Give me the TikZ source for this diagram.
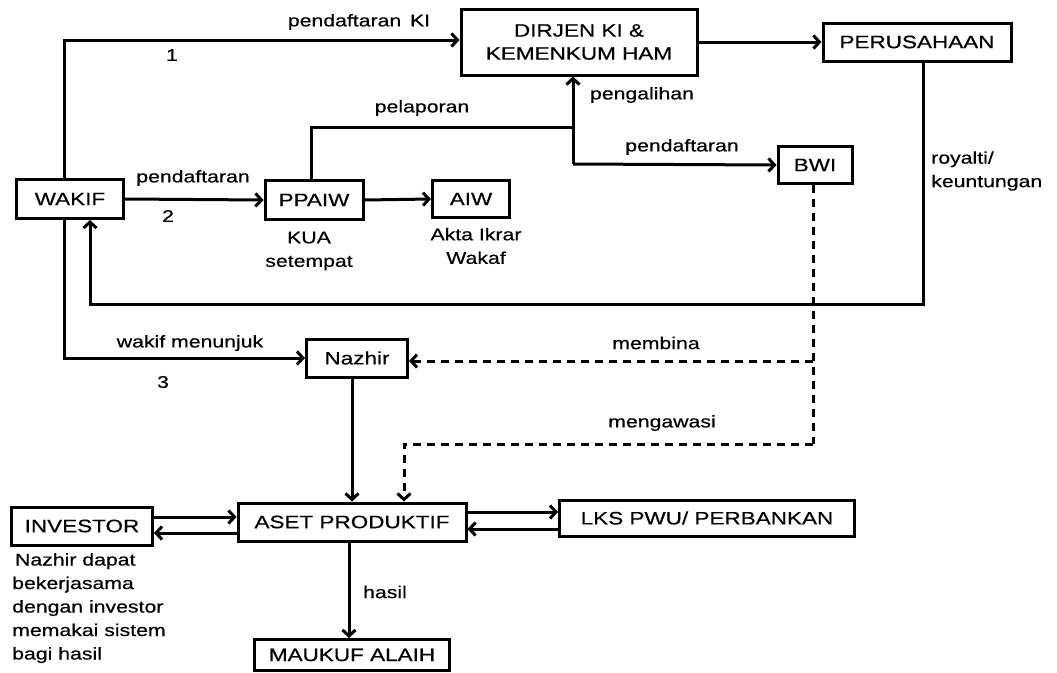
\documentclass[tikz,border=0pt]{standalone}
\usepackage{fontspec}
\setmainfont[FakeStretch=1.25,FakeBold=0.5]{Liberation Sans}
\usetikzlibrary{arrows.meta}
\begin{document}
\begin{tikzpicture}[x=1pt,y=-1pt,
    box/.style={draw,line width=3pt,inner sep=0pt,align=center,font=\fontsize{18}{23}\selectfont},
    lbl/.style={inner sep=0pt,font=\fontsize{17}{23.5}\selectfont},
    line/.style={line width=3pt},
    arr/.style={line width=3pt,-{Straight Barb[length=6pt,width=13pt]}},
    dashline/.style={line width=3pt,dash pattern=on 8pt off 6pt}]
    \useasboundingbox (0,0) rectangle (1057,672);

    % boxes
    \node[box,minimum width=107pt,minimum height=39pt] (wakif) at (70,199) {WAKIF};
    \node[box,minimum width=236pt,minimum height=66pt] (dirjen) at (579,42) {DIRJEN KI \&\\KEMENKUM HAM};
    \node[box,minimum width=188pt,minimum height=38pt] (perusahaan) at (917,42) {PERUSAHAAN};
    \node[box,minimum width=98pt,minimum height=39pt] (ppaiw) at (314,200) {PPAIW};
    \node[box,minimum width=77pt,minimum height=37pt] (aiw) at (471,199) {AIW};
    \node[box,minimum width=74pt,minimum height=37pt] (bwi) at (815,165) {BWI};
    \node[box,minimum width=101pt,minimum height=38pt] (nazhir) at (357,358) {Nazhir};
    \node[box,minimum width=228pt,minimum height=38pt] (aset) at (352,522) {ASET PRODUKTIF};
    \node[box,minimum width=141pt,minimum height=38pt] (investor) at (82,526) {INVESTOR};
    \node[box,minimum width=295pt,minimum height=36pt] (lks) at (707,518) {LKS PWU/ PERBANKAN};
    \node[box,minimum width=195pt,minimum height=31pt] (maukuf) at (352,655) {MAUKUF ALAIH};

    % labels
    \node[lbl] (lki) at (359,22) {pendaftaran\, KI};
    \node[lbl] (n1) at (172,55) {1};
    \node[lbl] (ldaftar) at (193,178) {pendaftaran};
    \node[lbl] (n2) at (168,216) {2};
    \node[lbl,align=center] (kua) at (309,251) {KUA\\setempat};
    \node[lbl,align=center] (akta) at (476,246) {Akta Ikrar\\Wakaf};
    \node[lbl] (llapor) at (422,108) {pelaporan};
    \node[lbl] (lalih) at (642,95) {pengalihan};
    \node[lbl] (lbwi) at (682,147) {pendaftaran};
    \node[lbl,anchor=west,align=left] (lroy) at (931,171) {royalti/\\keuntungan};
    \node[lbl] (ltunjuk) at (190,343) {wakif menunjuk};
    \node[lbl] (n3) at (163,382) {3};
    \node[lbl] (lbina) at (656,343) {membina};
    \node[lbl] (lawas) at (662,423) {mengawasi};
    \node[lbl] (lhasil) at (385,592) {hasil};
    \node[lbl,anchor=north west,align=left] (lnote) at (12,553) {\,Nazhir dapat\\bekerjasama\\dengan investor\\memakai sistem\\bagi hasil};

    % helper points
    \coordinate (lapor) at (573,127);
    \coordinate (split) at (573,164);
    \coordinate (roy) at (923,304);
    \coordinate (bina) at (813,361);
    \coordinate (awas) at (813,444);
    \coordinate (a1) at ([yshift=5pt]aset.west);
    \coordinate (a2) at ([yshift=-11pt]aset.west);
    \coordinate (b1) at ([yshift=10pt]aset.east);
    \coordinate (b2) at ([yshift=-7pt]aset.east);

    % connectors
    \draw[arr] ([xshift=-6pt]wakif.north) |- ([yshift=2pt]dirjen.west);
    \draw[arr] (dirjen.east) -- (perusahaan.west);
    \draw[arr] ([xshift=6pt]perusahaan.south) -- (roy) -| ([xshift=20pt]wakif.south);
    \draw[arr] (wakif.east) -- (ppaiw.west);
    \draw[arr] (ppaiw.east) -- (aiw.west);
    \draw[line] ([xshift=-3pt]ppaiw.north) |- (lapor);
    \draw[arr] (split) -- (dirjen.south -| split);
    \draw[arr] (split) -- (bwi.west);
    \draw[arr] ([xshift=-6pt]wakif.south) |- (nazhir.west);
    \draw[dashline] ([xshift=-2pt]bwi.south) -- (awas);
    \draw[dashline,-{Straight Barb[length=6pt,width=13pt]}] (bina) -- (nazhir.east |- bina);
    \draw[dashline,-{Straight Barb[length=6pt,width=13pt]}] (awas) -| ([xshift=52pt]aset.north);
    \draw[arr] ([xshift=-5pt]nazhir.south) -- (aset.north);
    \draw[arr] (investor.east |- a1) -- (a1);
    \draw[arr] (a2) -- (investor.east |- a2);
    \draw[arr] (b1) -- (lks.west |- b1);
    \draw[arr] (lks.west |- b2) -- (b2);
    \draw[arr] ([xshift=-3pt]aset.south) -- ([xshift=-3pt]maukuf.north);
\end{tikzpicture}
\end{document}
